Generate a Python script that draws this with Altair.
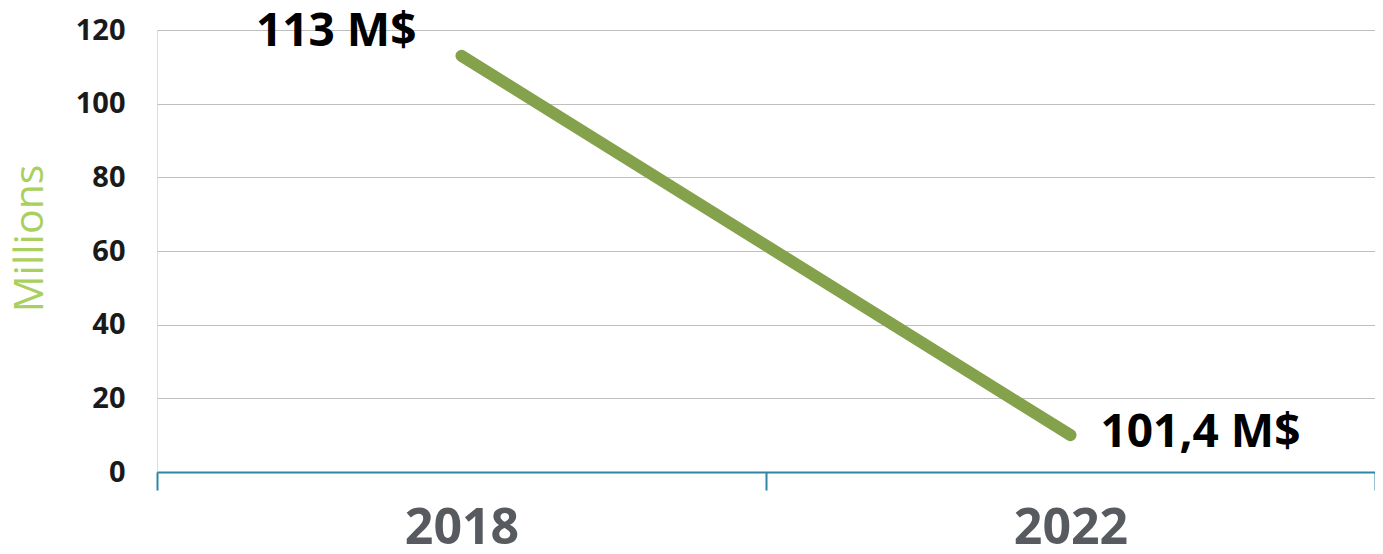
import altair as alt
import pandas as pd

years = ["2018", "2022"]
values = [113, 10]
labels = ["113 M$", "101,4 M$"]

df = pd.DataFrame({"year": years, "value": values, "label": labels})

FONT = "Open Sans"

x_enc = alt.X(
    "year:N",
    sort=years,
    scale=alt.Scale(paddingInner=0, paddingOuter=0),
    axis=alt.Axis(
        title=None,
        labelAngle=0,
        labelFont=FONT,
        labelFontSize=50,
        labelFontWeight="bold",
        labelColor="#575A5E",
        labelPadding=13,
        tickBand="extent",
        tickSize=18,
        tickColor="#2E86A3",
        tickWidth=2,
        domainColor="#2E86A3",
        domainWidth=2,
        grid=False,
    ),
)

y_enc = alt.Y(
    "value:Q",
    scale=alt.Scale(domain=[0, 120], nice=False),
    axis=alt.Axis(
        title="Millions",
        titleFont=FONT,
        titleFontSize=41,
        titleFontWeight="normal",
        titleColor="#A9D05F",
        titlePadding=24,
        titleY=208,
        titleAlign="center",
        values=[0, 20, 40, 60, 80, 100, 120],
        labelFont=FONT,
        labelFontSize=29,
        labelFontWeight="bold",
        labelColor="#1A1A1A",
        labelPadding=32,
        ticks=False,
        domain=False,
        grid=True,
        gridColor="#BFBFBF",
        gridWidth=1,
    ),
)

base = alt.Chart(df)

line = base.mark_line(
    color="#84A24B", strokeWidth=12, strokeCap="round"
).encode(x=x_enc, y=y_enc)

txt_first = base.transform_filter(alt.datum.year == years[0]).mark_text(
    font=FONT, fontSize=46, fontWeight="bold", color="#000000",
    align="right", baseline="middle", dx=-45, dy=-24,
).encode(x=alt.X("year:N", sort=years), y="value:Q", text="label:N")

txt_last = base.transform_filter(alt.datum.year == years[1]).mark_text(
    font=FONT, fontSize=46, fontWeight="bold", color="#000000",
    align="left", baseline="middle", dx=30, dy=-2,
).encode(x=alt.X("year:N", sort=years), y="value:Q", text="label:N")

chart = (
    alt.layer(line, txt_first, txt_last)
    .properties(
        width=1218,
        height=442,
        autosize=alt.AutoSizeParams(type="none"),
        padding={"left": 149, "top": 22, "right": 0, "bottom": 74},
    )
    .configure_view(stroke=None)
    .configure(background="#FFFFFF")
)

chart.save("out.html", embed_options={"renderer": "svg", "actions": False})
